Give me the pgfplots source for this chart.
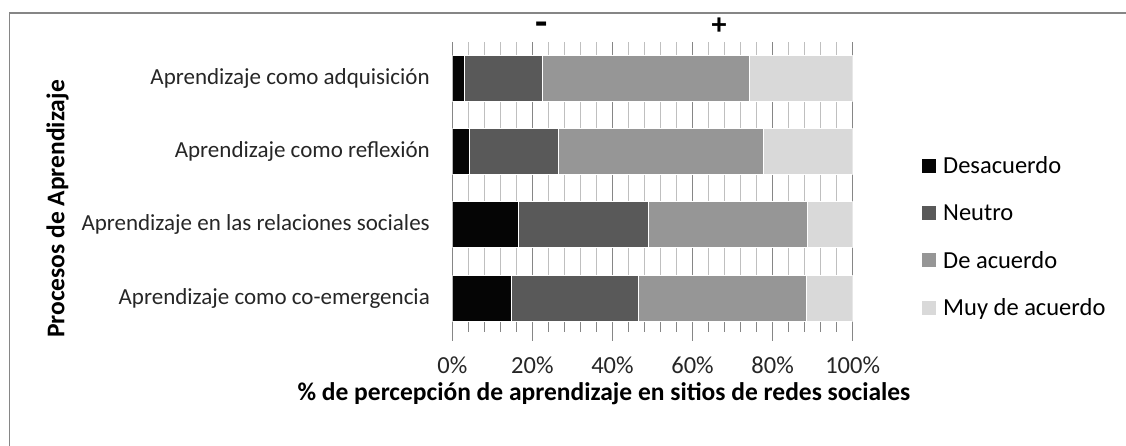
\documentclass[border=0pt]{standalone}
\usepackage{pgfplots}
\pgfplotsset{compat=1.18}
\usepackage{fontspec}
\setmainfont{Carlito}
\definecolor{cDes}{HTML}{050505}
\definecolor{cNeu}{HTML}{595959}
\definecolor{cAcu}{HTML}{969696}
\definecolor{cMuy}{HTML}{D9D9D9}
\definecolor{cGrid}{HTML}{BFBFBF}
\definecolor{cAxis}{HTML}{868686}
\begin{document}
\begin{tikzpicture}[x=1pt,y=1pt]
\begin{axis}[
  at={(452.3pt,124pt)}, anchor=south west,
  scale only axis, width=400.4pt, height=280pt,
  xbar stacked, bar width=46pt,
  xmin=0, xmax=100, ymin=-0.327, ymax=3.491,
  axis x line*=bottom, axis y line*=left,
  axis line style={cAxis, line width=1pt},
  xtick={0,20,40,60,80,100},
  xticklabels={0\%,20\%,40\%,60\%,80\%,100\%},
  minor x tick num=4,
  tick align=outside,
  major tick length=19pt, minor tick length=10pt,
  every tick/.style={cAxis, line width=0.8pt},
  xmajorgrids, xminorgrids,
  major grid style={cAxis, line width=0.8pt},
  minor grid style={cGrid, line width=0.8pt},
  ytick={0,1,2,3},
  yticklabels={Aprendizaje como co-emergencia, Aprendizaje en las relaciones sociales, Aprendizaje como reflexión, Aprendizaje como adquisición},
  ytick style={draw=none},
  y tick label style={font=\fontsize{23}{27}\selectfont, color=black!85},
  x tick label style={font=\fontsize{24.5}{28}\selectfont, color=black!85, yshift=-12pt},
  legend style={draw=none, at={(1.1656,0.605)}, anchor=north west,
    font=\fontsize{24.5}{28}\selectfont, row sep=25.3pt,
    legend cell align=left},
  legend image code/.code={\fill[#1, draw=none] (0pt,-7pt) rectangle (14pt,7pt); \path[draw=none, fill=none] (0pt,0pt) -- (19pt,0pt);},
]
\addplot+[fill=cDes, draw=white, line width=1pt] coordinates {(3.0,3) (4.4,2) (16.5,1) (14.8,0)};
\addplot+[fill=cNeu, draw=white, line width=1pt] coordinates {(19.5,3) (22.2,2) (32.6,1) (31.8,0)};
\addplot+[fill=cAcu, draw=white, line width=1pt] coordinates {(51.7,3) (51.1,2) (39.6,1) (41.9,0)};
\addplot+[fill=cMuy, draw=white, line width=1pt] coordinates {(25.8,3) (22.3,2) (11.3,1) (11.5,0)};
\legend{Desacuerdo, Neutro, De acuerdo, Muy de acuerdo}
\end{axis}
\node[font=\fontsize{25.5}{28}\selectfont\bfseries, rotate=90] at (57.5pt,237pt) {Procesos de Aprendizaje};
\node[font=\fontsize{25.5}{28}\selectfont\bfseries] at (604pt,52pt) {\% de percepción de aprendizaje en sitios de redes sociales};
\node[font=\fontsize{40}{40}\selectfont\bfseries] at (541.5pt,417pt) {-};
\node[font=\fontsize{30}{30}\selectfont\bfseries] at (719pt,420pt) {+};
\draw[cAxis, line width=1.3pt] (9.5pt,0pt) -- (9.5pt,433pt) -- (1126pt,433pt);
\pgfresetboundingbox
\path[use as bounding box] (0,0) rectangle (1126pt,446pt);
\end{tikzpicture}
\end{document}
